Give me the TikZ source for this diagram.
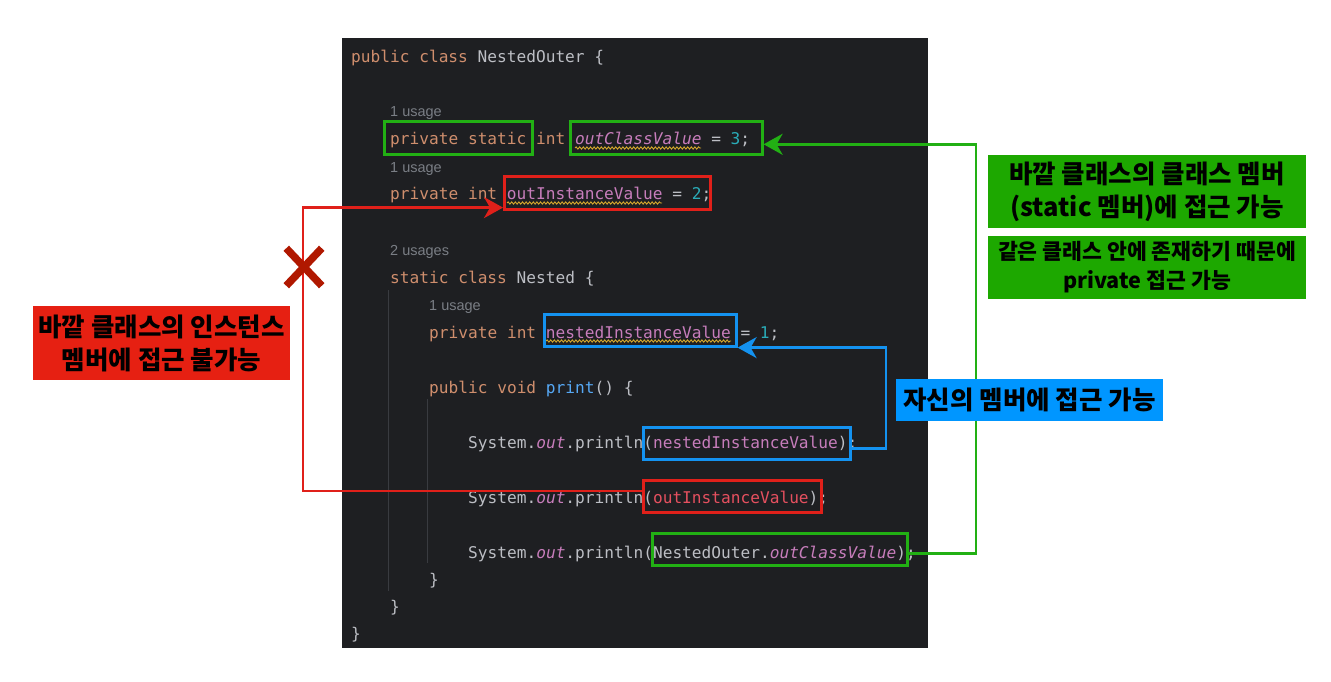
\documentclass[tikz,border=0pt]{standalone}
\usepackage{fontspec}
\usetikzlibrary{arrows.meta,shapes.misc,decorations.pathmorphing}
\newfontfamily\codefont{DejaVu Sans Mono}
\newfontfamily\hintfont{Liberation Sans}
\newfontfamily\krfont{Noto Sans CJK KR}
\definecolor{panelbg}{HTML}{1E1F22}
\definecolor{guidec}{HTML}{393B40}
\definecolor{kwc}{HTML}{CF8E6D}
\definecolor{txtc}{HTML}{BCBEC4}
\definecolor{fldc}{HTML}{C77DBB}
\definecolor{numc}{HTML}{2AACB8}
\definecolor{mthc}{HTML}{56A8F5}
\definecolor{hintc}{HTML}{7A7E85}
\definecolor{errc}{HTML}{E5505F}
\definecolor{wavec}{HTML}{D4A72C}
\definecolor{hlgreen}{HTML}{22B014}
\definecolor{hlred}{HTML}{E0201A}
\definecolor{hlblue}{HTML}{1492F0}
\definecolor{labred}{HTML}{E62012}
\definecolor{labgreen}{HTML}{1DA800}
\definecolor{labblue}{HTML}{0096FF}
\definecolor{xred}{HTML}{B01800}
\newcommand\kwd[1]{\textcolor{kwc}{#1}}
\newcommand\fld[1]{\textcolor{fldc}{#1}}
\newcommand\sfld[1]{\textcolor{fldc}{\itshape #1}}
\newcommand\cnum[1]{\textcolor{numc}{#1}}
\newcommand\mth[1]{\textcolor{mthc}{#1}}
\newcommand\errt[1]{\textcolor{errc}{#1}}
\tikzset{
  codeline/.style={anchor=base west, inner sep=0pt, text=txtc, font=\codefont\fontsize{16.16}{19}\selectfont},
  hintline/.style={anchor=base west, inner sep=0pt, text=hintc, font=\hintfont\fontsize{14.5}{17}\selectfont},
  hl/.style={draw, line width=2.6pt, inner sep=0pt, anchor=north west},
  guide/.style={draw=guidec, line width=1pt},
  wave/.style={draw=wavec, line width=0.9pt, decorate, decoration={snake, amplitude=1.1pt, segment length=3.6pt}},
  conn/.style={line width=2.6pt, -{Stealth[length=19pt,width=21pt,inset=6pt]}},
  bigkr/.style={inner sep=0pt, align=center, text=black, font=\krfont\bfseries\fontsize{25.5}{33}\selectfont},
  smallkr/.style={inner sep=0pt, align=center, text=black, font=\krfont\bfseries\fontsize{21.6}{29}\selectfont}
}
\begin{document}
\begin{tikzpicture}[x=1pt,y=-1pt]
\useasboundingbox (0,0) rectangle (1331,682);
\fill[white] (0,0) rectangle (1331,682);
% code panel
\fill[panelbg] (342,38) rectangle (928,648);
\draw[guide] (388,290) -- (388,591);
\draw[guide] (427,399) -- (427,563);
% code lines
\node[codeline] (l1) at (351,63) {\kwd{public class} NestedOuter \{};
\node[hintline] (h1) at (390,117) {1 usage};
\node[codeline] (l2) at (390,145) {\kwd{private static int} \sfld{outClassValue} = \cnum{3};};
\node[hintline] (h2) at (390,172) {1 usage};
\node[codeline] (l3) at (390,200) {\kwd{private int} \fld{outInstanceValue} = \cnum{2};};
\node[hintline] (h3) at (390,255) {2 usages};
\node[codeline] (l4) at (390,283) {\kwd{static class} Nested \{};
\node[hintline] (h4) at (429,310) {1 usage};
\node[codeline] (l5) at (429,338) {\kwd{private int} \fld{nestedInstanceValue} = \cnum{1};};
\node[codeline] (l6) at (429,393) {\kwd{public void} \mth{print}() \{};
\node[codeline] (l7) at (468,448) {System.\sfld{out}.println(\fld{nestedInstanceValue});};
\node[codeline] (l8) at (468,503) {System.\sfld{out}.println(\errt{outInstanceValue});};
\node[codeline] (l9) at (468,558) {System.\sfld{out}.println(NestedOuter.\sfld{outClassValue});};
\node[codeline] (l10) at (429,585) {\}};
\node[codeline] (l11) at (390,612) {\}};
\node[codeline] (l12) at (351,639) {\}};
% warning underlines
\draw[wave] (575,148) -- (701,148);
\draw[wave] (507,203) -- (662,203);
\draw[wave] (546,341) -- (731,341);
% highlight boxes
\node[hl, draw=hlgreen, minimum width=148pt, minimum height=33pt] (gA) at (383,120) {};
\node[hl, draw=hlgreen, minimum width=192pt, minimum height=33pt] (gB) at (569,120) {};
\node[hl, draw=hlred, minimum width=206pt, minimum height=33pt] (rA) at (503,175) {};
\node[hl, draw=hlblue, minimum width=192pt, minimum height=32pt] (bA) at (543,313) {};
\node[hl, draw=hlblue, minimum width=207pt, minimum height=32pt] (bB) at (642,426) {};
\node[hl, draw=hlred, minimum width=178pt, minimum height=32pt] (rB) at (642,479) {};
\node[hl, draw=hlgreen, minimum width=255pt, minimum height=32pt] (gC) at (651,532) {};
% turning points
\coordinate (gx) at (976,0);
\coordinate (bx) at (886,0);
\coordinate (rx) at (303,0);
% connectors
\draw[conn, hlgreen] ([yshift=-4pt]gC.east) -- ([yshift=-4pt]gC.east -| gx) -- ([yshift=-6.5pt]gB.east -| gx) -- ([yshift=-6.5pt]gB.east);
\draw[conn, hlblue] ([yshift=-5pt]bB.east) -- ([yshift=-5pt]bB.east -| bx) -- (bA.south east -| bx) -- (bA.south east);
\draw[conn, hlred] ([yshift=5.5pt]rB.west) -- ([yshift=5.5pt]rB.west -| rx) -- ([yshift=3pt]rA.south west -| rx) -- ([yshift=3pt]rA.south west);
% X mark
\node[cross out, draw=xred, line width=7.5pt, minimum width=28pt, minimum height=30pt, inner sep=0pt] (xmark) at (304,267) {};
% labels
\node[fill=labred, minimum width=257pt, minimum height=74pt, inner sep=0pt] (labR) at (161.5,343) {};
\node[bigkr] (labRt) at (labR.center) {바깥 클래스의 인스턴스\\멤버에 접근 불가능};
\node[fill=labgreen, minimum width=318pt, minimum height=73pt, inner sep=0pt] (labG1) at (1147,191.5) {};
\node[bigkr] (labG1t) at (labG1.center) {바깥 클래스의 클래스 멤버\\(static 멤버)에 접근 가능};
\node[fill=labgreen, minimum width=318pt, minimum height=63pt, inner sep=0pt] (labG2) at (1147,267.5) {};
\node[smallkr] (labG2t) at (labG2.center) {같은 클래스 안에 존재하기 때문에\\private 접근 가능};
\node[fill=labblue, minimum width=267pt, minimum height=42pt, inner sep=0pt] (labB) at (1029.5,400) {};
\node[bigkr] (labBt) at (labB.center) {자신의 멤버에 접근 가능};
\end{tikzpicture}
\end{document}
